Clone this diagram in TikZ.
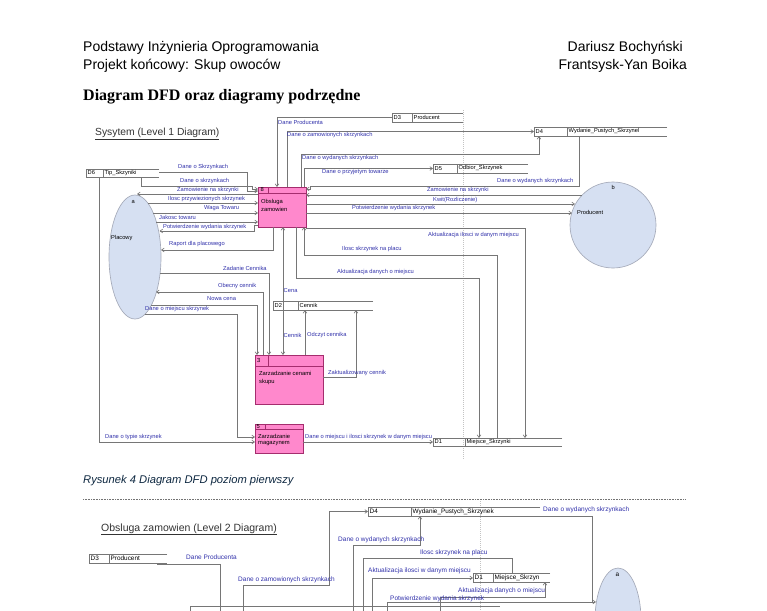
\documentclass[tikz,border=0pt]{standalone}
\usepackage{fontspec}
\setmainfont{Liberation Sans}
\newfontfamily\timesfam{Liberation Serif}
\usetikzlibrary{arrows.meta,shapes.geometric}
\definecolor{flowc}{RGB}{118,118,118}
\definecolor{lblc}{RGB}{48,48,170}
\definecolor{pinkf}{RGB}{255,136,204}
\definecolor{pinkd}{RGB}{165,45,110}
\definecolor{entf}{RGB}{214,224,242}
\definecolor{entd}{RGB}{165,170,185}
\definecolor{capc}{RGB}{14,40,65}
\definecolor{pagec}{RGB}{195,195,195}
\tikzset{
 flowline/.style={draw=flowc, line width=0.65pt},
 flow/.style={flowline, -{Straight Barb[length=2.6pt,width=3.6pt]}},
 flowboth/.style={flowline, {Straight Barb[length=2.6pt,width=3.6pt]}-{Straight Barb[length=2.6pt,width=3.6pt]}},
 storeline/.style={draw=flowc, line width=0.65pt},
 lbl/.style={anchor=west, inner sep=0pt, text=lblc, font=\fontsize{5.75}{6.5}\selectfont},
 lblb/.style={lbl, font=\fontsize{6.5}{7.5}\selectfont},
 stxt/.style={anchor=west, inner sep=0pt, font=\fontsize{5.7}{6.5}\selectfont},
 stxtb/.style={anchor=west, inner sep=0pt, font=\fontsize{6.4}{7.5}\selectfont},
 proc/.style={draw=pinkd, fill=pinkf, line width=0.65pt, inner sep=0pt},
 procline/.style={draw=pinkd, line width=0.65pt},
 ptxt/.style={anchor=west, inner sep=0pt, font=\fontsize{5.8}{6.5}\selectfont},
 ent/.style={draw=entd, fill=entf, line width=0.65pt, inner sep=0pt},
 hdr/.style={inner sep=0pt, font=\fontsize{14}{16}\selectfont},
 pageline/.style={draw=pagec, line width=0.5pt, dash pattern=on 1pt off 1pt},
}
\newcommand\dfdstore[9]{%
 \draw[storeline] (#4,#3) -- (#2,#3) -- (#2,#5) -- (#4,#5);
 \draw[storeline] (#6,#3) -- (#6,#5);
 \path (#2,#3) -- (#2,#5) node[midway,#9,xshift=1.5pt] (#1-id) {#7};
 \path (#6,#3) -- (#6,#5) node[midway,#9,xshift=1.5pt] (#1) {#8};
}
\begin{document}
\begin{tikzpicture}[x=1pt,y=-1pt]
\useasboundingbox (0,0) rectangle (767,610);
\fill[white] (0,0) rectangle (767,610);
\clip (0,0) rectangle (767,610);

% ---------- page header ----------
\node[hdr, anchor=base west] (h1) at (83,52) {Podstawy Inżynieria Oprogramowania};
\node[hdr, anchor=base east] (h2) at (683,52) {Dariusz Bochyński};
\node[hdr, anchor=base west] (h3) at (83,70) {Projekt końcowy: Skup owoców};
\node[hdr, anchor=base east] (h4) at (687,70) {Frantsysk-Yan Boika};
\node[inner sep=0pt, anchor=base west, font=\timesfam\bfseries\fontsize{16}{18}\selectfont] (ttl) at (83,100) {Diagram DFD oraz diagramy podrzędne};

% ---------- diagram 1 ----------
\node[inner sep=0pt, anchor=base west, text=black!80, font=\fontsize{10.3}{12}\selectfont] (t1) at (95,135.5) {\underline{Sysytem (Level 1 Diagram)}};
\draw[pageline] (463,110) -- (463,460);

% stores
\dfdstore{d6}{86}{169}{159}{177}{103}{D6}{Tip\_Skzyniki}{stxt}
\dfdstore{d3}{392}{113}{463}{122}{412}{D3}{Producent}{stxt}
\dfdstore{d4}{534}{127}{667}{136}{567}{D4}{Wydanie\_Pustych\_Skrzynel}{stxt}
\dfdstore{d5}{433}{164}{528}{173}{457}{D5}{Odbior\_Skrzynek}{stxt}
\dfdstore{d2}{273}{301}{373}{310}{298}{D2}{Cennik}{stxt}
\dfdstore{d1}{433}{438}{562}{446}{465}{D1}{Miejsce\_Skrzynki}{stxt}

% entities
\node[ent, ellipse, minimum width=52pt, minimum height=124pt] (pl) at (135,257) {};
\node[stxt] (pla) at (131.5,202) {a};
\node[stxt] (plt) at (111,238) {Placowy};
\node[ent, circle, minimum size=86pt] (prod) at (613,225) {};
\node[stxt] (prb) at (611.5,187) {b};
\node[stxt] (prt) at (577,212) {Producent};

% processes
\node[proc, minimum width=48pt, minimum height=40pt] (obs) at (282,207) {};
\draw[procline] (258,193) -- (306,193) (268,187) -- (268,193);
\node[ptxt] (obsn) at (260.5,190) {8};
\node[ptxt] (obs1) at (261,201.5) {Obsluga};
\node[ptxt] (obs2) at (261,209.5) {zamowien};

\node[proc, minimum width=68pt, minimum height=49pt] (p3) at (289,379.5) {};
\draw[procline] (255,366) -- (323,366) (268,355) -- (268,366);
\node[ptxt] (p3n) at (257,360) {3};
\node[ptxt] (p31) at (259,373.5) {Zarzadzanie cenami};
\node[ptxt] (p32) at (259,381.5) {skupu};

\node[proc, minimum width=48pt, minimum height=29pt] (p5) at (279,438.5) {};
\draw[procline] (255,429.5) -- (303,429.5) (265,424) -- (265,429.5);
\node[ptxt] (p5n) at (256.5,427) {5};
\node[ptxt] (p51) at (258,436.5) {Zarzadzanie};
\node[ptxt] (p52) at (258,443.5) {magazynem};

% flows left of Obsluga
\draw[flow] (159,172) -| (247,191) -- (258,191);
\draw[flow] (141,177) |- (252,186) |- (258,189);
\draw[flow] (258,194) -- (137,194);
\draw[flow] (148,203) -- (258,203);
\draw[flow] (153,213) -- (258,213);
\draw[flow] (156,222) -- (258,222);
\draw[flow] (258,225) -- (254,225) |- (159.5,231);
\draw[flow] (273,227) |- (161,250);
\draw[flow] (160,273) -| (269,355);
\draw[flow] (263,355) |- (156,292);
\draw[flow] (151,305) -| (257,355);
\draw[flow] (145,314) -| (237,437) -- (255,437);
\draw[flow] (99,177) |- (255,442);
\draw[flow] (303,442) -- (433,442);
% flows below Obsluga
\draw[flowboth] (283,355) -- (283,227);
\draw[flow] (305,355) -- (305,310);
\draw[flow] (323,377) -| (356,310);
\draw[flow] (296,227) |- (479,278) -- (479,438);
\draw[flow] (497,438) |- (304,255) -- (304,227);
\draw[flow] (306,228) -| (525,438);
% flows above / right of Obsluga
\draw[flow] (392,117) -| (277,187);
\draw[flow] (287,187) |- (534,131.5);
\draw[flow] (301,187) |- (539,154) -- (539,136);
\draw[flow] (304,187) |- (433,168.5);
\draw[flow] (579,136) |- (310,186) |- (306,189);
\draw[flow] (582,195) -- (306,195);
\draw[flow] (306,204) -- (575,204);
\draw[flow] (306,213) -- (572,213);

% labels diagram 1
\node[lbl] (l1) at (178,167) {Dane o Skrzynkach};
\node[lbl] (l2) at (180,181) {Dane o skrzynkach};
\node[lbl] (l3) at (177,190) {Zamowienie na skrzynki};
\node[lbl] (l4) at (168,199) {Ilosc przywiezionych skrzynek};
\node[lbl] (l5) at (204,208) {Waga Towaru};
\node[lbl] (l6) at (159,217) {Jakosc towaru};
\node[lbl] (l7) at (163,227) {Potwierdzenie wydania skrzynek};
\node[lbl] (l8) at (169,244) {Raport dla placowego};
\node[lbl] (l9) at (223,268) {Zadanie Cennika};
\node[lbl] (l10) at (218,286) {Obecny cennik};
\node[lbl] (l11) at (207,299) {Nowa cena};
\node[lbl] (l12) at (145,309) {Dane o miejscu skrzynek};
\node[lbl] (l13) at (105,437) {Dane o typie skrzynek};
\node[lbl] (l14) at (278,122) {Dane Producenta};
\node[lbl] (l15) at (287,135.5) {Dane o zamowionych skrzynkach};
\node[lbl] (l16) at (302,158.5) {Dane o wydanych skrzynkach};
\node[lbl] (l17) at (322,172) {Dane o przyjetym towarze};
\node[lbl] (l18) at (497,181) {Dane o wydanych skrzynkach};
\node[lbl] (l19) at (427,190) {Zamowienie na skrzynki};
\node[lbl] (l20) at (433,200) {Kwit(Rozliczenie)};
\node[lbl] (l21) at (352,208.5) {Potwierdzenie wydania skrzynek};
\node[lbl] (l22) at (428,235) {Aktualizacja ilosci w danym miejscu};
\node[lbl] (l23) at (342,249) {Ilosc skrzynek na placu};
\node[lbl] (l24) at (337,272) {Aktualizacja danych o miejscu};
\node[lbl] (l25) at (283.5,291) {Cena};
\node[lbl] (l26) at (283.5,335) {Cennik};
\node[lbl] (l27) at (307,335) {Odczyt cennika};
\node[lbl] (l28) at (328,373) {Zaktualizowany cennik};
\node[lbl] (l29) at (305,437) {Dane o miejscu i ilosci skrzynek w danym miejscu};

% ---------- caption and separator ----------
\node[inner sep=0pt, anchor=base west, text=capc, font=\itshape\fontsize{11.2}{13}\selectfont] (cap) at (83,483) {Rysunek 4 Diagram DFD poziom pierwszy};
\draw[draw=black!55, line width=0.9pt, dash pattern=on 1pt off 0.6pt] (83,499.5) -- (685,499.5);

% ---------- diagram 2 ----------
\node[inner sep=0pt, anchor=base west, text=black!80, font=\fontsize{10.5}{12}\selectfont] (t2) at (101,531) {\underline{Obsluga zamowien (Level 2 Diagram)}};
\draw[pageline] (480,501) -- (480,610);
\dfdstore{e3}{89}{554}{167}{563}{109}{D3}{Producent}{stxtb}
\dfdstore{e4}{368}{507}{540}{516}{411}{D4}{Wydanie\_Pustych\_Skrzynek}{stxtb}
\dfdstore{e1}{473}{573}{550}{582}{493}{D1}{Miejsce\_Skrzyn}{stxtb}
\node[ent, ellipse, minimum width=46pt, minimum height=104pt] (pl2) at (618,620) {};
\node[stxtb] (pl2a) at (615.5,575) {a};

\draw[flowline] (157,564) -| (220,612);
\draw[flow] (243,612) |- (329,585) |- (368,511.5);
\draw[flow] (353,612) |- (420,545) -- (420,516);
\draw[flowline] (512,573) |- (363,558) -- (363,612);
\draw[flow] (372,612) |- (473,578);
\draw[flow] (440,612) |- (545,597) -- (545,582);
\draw[flow] (387,612) |- (596,602);
\draw[flowline] (540,516) -| (592,602);
\draw[flowline] (190,612) |- (500,606);

\node[lblb] (m1) at (186,557) {Dane Producenta};
\node[lblb] (m2) at (238,580) {Dane o zamowionych skrzynkach};
\node[lblb] (m3) at (338,540) {Dane o wydanych skrzynkach};
\node[lblb] (m4) at (543,510) {Dane o wydanych skrzynkach};
\node[lblb] (m5) at (420,553) {Ilosc skrzynek na placu};
\node[lblb] (m6) at (368,571) {Aktualizacja ilosci w danym miejscu};
\node[lblb] (m7) at (458,591) {Aktualizacja danych o miejscu};
\node[lblb] (m8) at (390,599) {Potwierdzenie wydania skrzynek};
\end{tikzpicture}
\end{document}
